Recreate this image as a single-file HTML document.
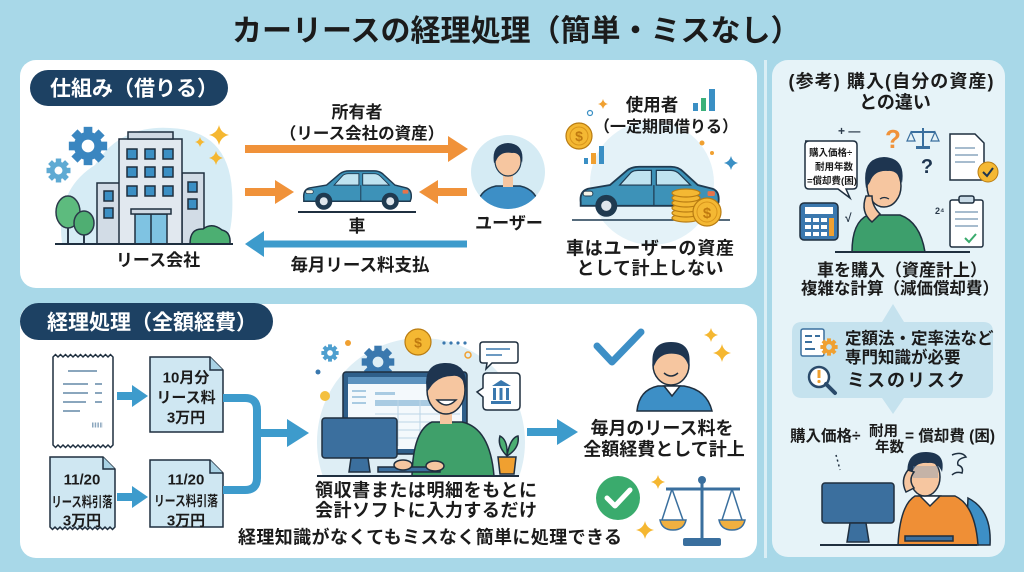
<!DOCTYPE html>
<html><head><meta charset="utf-8">
<style>
html,body{margin:0;padding:0;width:1024px;height:572px;overflow:hidden;background:#a8d8e8}
svg{display:block}
text{font-family:"Liberation Sans","Noto Sans CJK JP",sans-serif;font-weight:bold;fill:#1b1b1b}
.ln{stroke:#1f2f3f;stroke-width:1.5}
</style></head><body>
<svg width="1024" height="572" viewBox="0 0 1024 572" xmlns="http://www.w3.org/2000/svg">
<defs>
<symbol id="spk" viewBox="-10 -10 20 20"><path d="M0-10Q1.8-1.8 10 0Q1.8 1.8 0 10Q-1.8 1.8-10 0Q-1.8-1.8 0-10Z"/></symbol>
<symbol id="gear" viewBox="-12 -12 24 24"><g><rect x="-2.6" y="-11.5" width="5.2" height="7"/><rect x="-2.6" y="-11.5" width="5.2" height="7" transform="rotate(45)"/><rect x="-2.6" y="-11.5" width="5.2" height="7" transform="rotate(90)"/><rect x="-2.6" y="-11.5" width="5.2" height="7" transform="rotate(135)"/><rect x="-2.6" y="-11.5" width="5.2" height="7" transform="rotate(180)"/><rect x="-2.6" y="-11.5" width="5.2" height="7" transform="rotate(225)"/><rect x="-2.6" y="-11.5" width="5.2" height="7" transform="rotate(270)"/><rect x="-2.6" y="-11.5" width="5.2" height="7" transform="rotate(315)"/></g><path fill-rule="evenodd" d="M-8.5 0a8.5 8.5 0 1 0 17 0a8.5 8.5 0 1 0-17 0ZM-3.8 0a3.8 3.8 0 1 0 7.6 0a3.8 3.8 0 1 0-7.6 0Z"/></symbol>
<symbol id="car" viewBox="0 0 120 50">
<path d="M4 37Q3 28 10 26L28 23L42 11Q46 8 52 8L78 8Q84 8 88 12L100 23L112 26Q118 28 117 37L116 40L4 40Z" fill="#3d92b8" stroke="#1f3a50" stroke-width="1.5"/>
<path d="M36 23L45 13Q47 11 51 11L62 11L62 23Z" fill="#bfe3f0" stroke="#1f3a50"/>
<path d="M66 11L78 11Q82 11 85 14L94 23L66 23Z" fill="#bfe3f0" stroke="#1f3a50"/>
<line x1="64" y1="23" x2="64" y2="40" stroke="#1f3a50"/>
<rect x="6" y="28" width="8" height="4" rx="2" fill="#f4f4e8" stroke="#1f3a50" stroke-width=".8"/>
<rect x="108" y="28" width="6" height="4" rx="1" fill="#e8734a"/>
<circle cx="25" cy="40" r="9" fill="#1f3a50"/><circle cx="25" cy="40" r="4.2" fill="#dfe6ec"/>
<circle cx="95" cy="40" r="9" fill="#1f3a50"/><circle cx="95" cy="40" r="4.2" fill="#dfe6ec"/>
</symbol>
<clipPath id="uc"><circle cx="508" cy="172" r="37"/></clipPath>
<clipPath id="cc"><rect x="300" y="320" width="240" height="156"/></clipPath>
</defs>

<rect width="1024" height="572" fill="#a8d8e8"/>

<text x="232" y="41" font-size="30">カーリースの経理処理（簡単・ミスなし）</text>

<rect x="20" y="60" width="737" height="228" rx="16" fill="#fff"/>
<rect x="20" y="304" width="737" height="254" rx="16" fill="#fff"/>
<rect x="764" y="60" width="3" height="498" fill="#d9eef5"/>
<rect x="772" y="60" width="233" height="497" rx="16" fill="#e6f3f8"/>

<rect x="30" y="70" width="198" height="36" rx="18" fill="#1d4163"/>
<text x="50" y="95.5" font-size="21" style="fill:#fff">仕組み（借りる）</text>
<rect x="20" y="303" width="253" height="37" rx="18.5" fill="#1d4163"/>
<text x="47" y="329.5" font-size="21" style="fill:#fff">経理処理（全額経費）</text>

<!-- building -->
<path d="M62 243Q55 190 95 165Q120 125 170 128Q228 130 232 190Q234 225 226 243Z" fill="#d6ecf5"/>
<use href="#gear" x="68" y="126" width="40" height="40" fill="#3a86c0"/>
<use href="#gear" x="46" y="158" width="25" height="25" fill="#5eaad3"/>
<line x1="68" y1="222" x2="68" y2="244" stroke="#2b3a4a" stroke-width="2"/>
<ellipse cx="68" cy="212" rx="12" ry="16" fill="#5dbb7e" stroke="#2b3a4a" stroke-width="1.5"/>
<line x1="84" y1="230" x2="84" y2="244" stroke="#2b3a4a" stroke-width="2"/>
<ellipse cx="84" cy="223" rx="10" ry="12" fill="#4fae72" stroke="#2b3a4a" stroke-width="1.5"/>
<rect x="97" y="183" width="24" height="61" fill="#d2dce6" class="ln"/>
<rect x="104" y="191" width="9" height="10" fill="#3b8fc4" class="ln"/>
<rect x="104" y="208" width="9" height="10" fill="#3b8fc4" class="ln"/>
<rect x="182" y="173" width="22" height="71" fill="#d2dce6" class="ln"/>
<rect x="188" y="182" width="9" height="10" fill="#3b8fc4" class="ln"/>
<rect x="188" y="199" width="9" height="10" fill="#3b8fc4" class="ln"/>
<rect x="119" y="139" width="63" height="105" fill="#e1e8ef" class="ln"/>
<rect x="128" y="132" width="45" height="7" fill="#cfd9e3" class="ln"/>
<g fill="#3b8fc4" class="ln">
<rect x="127" y="149" width="10" height="10"/><rect x="145" y="149" width="10" height="10"/><rect x="163" y="149" width="10" height="10"/>
<rect x="127" y="167" width="10" height="10"/><rect x="145" y="167" width="10" height="10"/><rect x="163" y="167" width="10" height="10"/>
<rect x="127" y="186" width="10" height="10"/><rect x="145" y="186" width="10" height="10"/><rect x="163" y="186" width="10" height="10"/>
</g>
<rect x="135" y="214" width="32" height="30" fill="#7fc3e2" class="ln"/>
<line x1="151" y1="214" x2="151" y2="244" class="ln"/>
<rect x="131" y="209" width="40" height="5" fill="#cfd9e3" class="ln"/>
<path d="M190 244Q190 228 203 229Q212 222 222 230Q231 232 230 244Z" fill="#4caf72" class="ln"/>
<line x1="55" y1="244" x2="233" y2="244" stroke="#1f2f3f" stroke-width="2"/>
<use href="#spk" x="209" y="125" width="20" height="20" fill="#f5b731"/>
<use href="#spk" x="195" y="137" width="10" height="10" fill="#f5b731"/>
<use href="#spk" x="209" y="151" width="14" height="14" fill="#f5b731"/>
<text x="158" y="266" font-size="17" text-anchor="middle">リース会社</text>

<!-- arrows top -->
<line x1="245" y1="149" x2="452" y2="149" stroke="#f0923a" stroke-width="8"/>
<path d="M448 136L468 149L448 162Z" fill="#f0923a"/>
<line x1="245" y1="192" x2="278" y2="192" stroke="#f0923a" stroke-width="8"/>
<path d="M275 180L294 192L275 204Z" fill="#f0923a"/>
<line x1="435" y1="192" x2="467" y2="192" stroke="#f0923a" stroke-width="8"/>
<path d="M438 180L419 192L438 204Z" fill="#f0923a"/>
<line x1="260" y1="244" x2="467" y2="244" stroke="#3d9bcc" stroke-width="7"/>
<path d="M264 231L245 244L264 257Z" fill="#3d9bcc"/>
<text x="357" y="118" font-size="17" text-anchor="middle">所有者</text>
<text x="362" y="139" font-size="16.5" text-anchor="middle">（リース会社の資産）</text>
<use href="#car" x="300" y="163" width="114" height="48"/>
<line x1="298" y1="212" x2="416" y2="212" stroke="#1f2f3f" stroke-width="2"/>
<text x="357" y="232" font-size="17" text-anchor="middle">車</text>
<text x="360" y="271" font-size="17.5" text-anchor="middle">毎月リース料支払</text>

<!-- user -->
<circle cx="508" cy="172" r="37" fill="#d5ebf4"/>
<g clip-path="url(#uc)">
<path d="M476 212Q477 190 496 186L520 186Q539 190 540 212Z" fill="#3d8fc6" stroke="#1f3a50" stroke-width="1.5"/>
</g>
<rect x="503" y="174" width="10" height="13" fill="#f6c6a0"/>
<ellipse cx="508" cy="161" rx="13" ry="15" fill="#f6c6a0" stroke="#1f3a50" stroke-width="1.2"/>
<path d="M494 163Q491 144 508 143Q525 144 522 163Q520 152 512 153Q500 151 496 161Z" fill="#1e3550"/>
<text x="509" y="229" font-size="17" text-anchor="middle">ユーザー</text>

<!-- right car -->
<circle cx="652" cy="183" r="62" fill="#e4f2f8"/>
<use href="#car" x="575" y="157" width="148" height="61"/>
<line x1="572" y1="220" x2="730" y2="220" stroke="#1f3a50" stroke-width="1.5"/>
<g fill="#f4b833" stroke="#b97c12" stroke-width="1.2">
<ellipse cx="686" cy="218" rx="14" ry="4"/><ellipse cx="686" cy="213" rx="14" ry="4"/><ellipse cx="686" cy="208" rx="14" ry="4"/><ellipse cx="686" cy="203" rx="14" ry="4"/><ellipse cx="686" cy="198" rx="14" ry="4"/><ellipse cx="686" cy="193" rx="14" ry="4"/>
<circle cx="707" cy="212" r="14"/><circle cx="579" cy="136" r="13"/>
</g>
<circle cx="707" cy="212" r="10" fill="none" stroke="#d9951c"/>
<circle cx="579" cy="136" r="9" fill="none" stroke="#d9951c"/>
<text x="707" y="218" font-size="15" text-anchor="middle" style="fill:#c07a10">$</text>
<text x="579" y="141" font-size="14" text-anchor="middle" style="fill:#c07a10">$</text>
<rect x="584" y="158" width="4" height="6" fill="#3a8fc4"/><rect x="591" y="153" width="5" height="11" fill="#f0a030"/><rect x="599" y="146" width="5" height="18" fill="#3a8fc4"/>
<rect x="693" y="103" width="5" height="8" fill="#3a8fc4"/><rect x="701" y="98" width="5" height="13" fill="#3bb07a"/><rect x="709" y="89" width="6" height="22" fill="#3a8fc4"/>
<use href="#spk" x="598" y="99" width="10" height="10" fill="#f0a030"/>
<use href="#spk" x="724" y="156" width="14" height="14" fill="#3a8fc4"/>
<circle cx="590" cy="113" r="2.5" fill="none" stroke="#3a8fc4" stroke-width="1.2"/>
<circle cx="702" cy="143" r="2.5" fill="#f0a030"/><circle cx="712" cy="153" r="2" fill="#f0a030"/>
<text x="652" y="111" font-size="17.5" text-anchor="middle">使用者</text>
<text x="666" y="132" font-size="16" text-anchor="middle">（一定期間借りる）</text>
<text x="650" y="254.5" font-size="18" text-anchor="middle" textLength="168">車はユーザーの資産</text>
<text x="650" y="274.5" font-size="18" text-anchor="middle" textLength="147">として計上しない</text>

<!-- bottom panel -->
<path d="M53 357l2.5-2.5l2.5 2.5l2.5-2.5l2.5 2.5l2.5-2.5l2.5 2.5l2.5-2.5l2.5 2.5l2.5-2.5l2.5 2.5l2.5-2.5l2.5 2.5l2.5-2.5l2.5 2.5l2.5-2.5l2.5 2.5l2.5-2.5l2.5 2.5l2.5-2.5l2.5 2.5l2.5-2.5l2.5 2.5l2.5-2.5l2.5 2.5V445l-2.5 2.5l-2.5-2.5l-2.5 2.5l-2.5-2.5l-2.5 2.5l-2.5-2.5l-2.5 2.5l-2.5-2.5l-2.5 2.5l-2.5-2.5l-2.5 2.5l-2.5-2.5l-2.5 2.5l-2.5-2.5l-2.5 2.5l-2.5-2.5l-2.5 2.5l-2.5-2.5l-2.5 2.5l-2.5-2.5l-2.5 2.5l-2.5-2.5l-2.5 2.5l-2.5-2.5Z" fill="#fff" class="ln"/>
<g stroke="#8aa6bd" stroke-width="2">
<line x1="68" y1="371" x2="97" y2="371"/><line x1="63" y1="384" x2="88" y2="384"/><line x1="63" y1="393" x2="88" y2="393"/><line x1="63" y1="402" x2="86" y2="402"/><line x1="63" y1="411" x2="80" y2="411"/>
<line x1="95" y1="384" x2="102" y2="384"/><line x1="95" y1="393" x2="102" y2="393"/><line x1="95" y1="402" x2="102" y2="402"/>
<line x1="92" y1="425" x2="103" y2="425" stroke-dasharray="1.5 1.2" stroke-width="5"/>
</g>
<line x1="117" y1="396" x2="134" y2="396" stroke="#3d9bcc" stroke-width="8"/>
<path d="M132 385L148 396L132 407Z" fill="#3d9bcc"/>
<line x1="117" y1="497" x2="134" y2="497" stroke="#3d9bcc" stroke-width="8"/>
<path d="M132 486L148 497L132 508Z" fill="#3d9bcc"/>
<path d="M150 357H210L223 370V432H150Z" fill="#cfe7f2" class="ln"/>
<path d="M210 357V370H223" fill="#a9d2e4" class="ln"/>
<path d="M150 460H210L223 473V527H150Z" fill="#cfe7f2" class="ln"/>
<path d="M210 460V473H223" fill="#a9d2e4" class="ln"/>
<path d="M50 457H103L115 469V527l-2.5 2.5l-2.5-2.5l-2.5 2.5l-2.5-2.5l-2.5 2.5l-2.5-2.5l-2.5 2.5l-2.5-2.5l-2.5 2.5l-2.5-2.5l-2.5 2.5l-2.5-2.5l-2.5 2.5l-2.5-2.5l-2.5 2.5l-2.5-2.5l-2.5 2.5l-2.5-2.5l-2.5 2.5l-2.5-2.5l-2.5 2.5l-2.5-2.5l-2.5 2.5l-2.5-2.5l-2.5 2.5l-2.5-2.5Z" fill="#cfe7f2" class="ln"/>
<path d="M103 457V469H115" fill="#a9d2e4" class="ln"/>
<text x="186" y="382.4" font-size="15" text-anchor="middle">10月分</text>
<text x="186" y="402.4" font-size="15" text-anchor="middle">リース料</text>
<text x="186" y="422.4" font-size="15" text-anchor="middle">3万円</text>
<text x="82" y="484.4" font-size="15" text-anchor="middle">11/20</text>
<text x="82" y="507" font-size="14" text-anchor="middle" textLength="61" lengthAdjust="spacingAndGlyphs">リース料引落</text>
<text x="82" y="525.4" font-size="15" text-anchor="middle">3万円</text>
<text x="186" y="484.4" font-size="15" text-anchor="middle">11/20</text>
<text x="186" y="506" font-size="14" text-anchor="middle" textLength="64" lengthAdjust="spacingAndGlyphs">リース料引落</text>
<text x="186" y="525.4" font-size="15" text-anchor="middle">3万円</text>
<path d="M223 398H245Q257 398 257 410V478Q257 490 245 490H223" fill="none" stroke="#3d9bcc" stroke-width="8"/>
<line x1="257" y1="433" x2="290" y2="433" stroke="#3d9bcc" stroke-width="8"/>
<path d="M287 419L309 433L287 447Z" fill="#3d9bcc"/>

<!-- computer scene -->
<g clip-path="url(#cc)"><circle cx="421" cy="442" r="104" fill="#deeef5"/></g>
<use href="#gear" x="321" y="344" width="18" height="18" fill="#4e9fcf"/>
<use href="#gear" x="361" y="345" width="34" height="34" fill="#3a78ae"/>
<circle cx="418" cy="342" r="13" fill="#f4b833" stroke="#b97c12" stroke-width="1.2"/>
<text x="418" y="347.5" font-size="14" text-anchor="middle" style="fill:#c07a10">$</text>
<g fill="#3a78ae"><circle cx="444" cy="343" r="1.6"/><circle cx="451" cy="343" r="1.6"/><circle cx="458" cy="343" r="1.6"/><circle cx="465" cy="343" r="1.6"/></g>
<circle cx="348" cy="343" r="3" fill="#f0a030"/>
<circle cx="468" cy="355" r="3" fill="none" stroke="#f0a030" stroke-width="1.5"/>
<circle cx="325" cy="396" r="5" fill="#f4c040"/>
<circle cx="318" cy="372" r="2.5" fill="#3a78ae"/>
<path d="M483 342H515Q518 342 518 345V360Q518 363 515 363H492L486 369L487 363H483Q480 363 480 360V345Q480 342 483 342Z" fill="#fff" class="ln"/>
<line x1="486" y1="349" x2="510" y2="349" stroke="#3a78ae" stroke-width="1.5"/><line x1="486" y1="355" x2="502" y2="355" stroke="#3a78ae" stroke-width="1.5"/>
<path d="M487 373H516Q520 373 520 377V406Q520 410 516 410H487Q483 410 483 406V397L477 392L483 388V377Q483 373 487 373Z" fill="#fff" class="ln"/>
<path d="M492 386L501 380L511 386Z" fill="#3a78ae"/><rect x="493" y="388" width="3" height="12" fill="#3a78ae"/><rect x="499.5" y="388" width="3" height="12" fill="#3a78ae"/><rect x="506" y="388" width="3" height="12" fill="#3a78ae"/><rect x="491" y="401" width="20" height="3" fill="#3a78ae"/>
<rect x="343" y="372" width="124" height="82" rx="3" fill="#2f5f8a" class="ln"/>
<rect x="348" y="377" width="114" height="72" fill="#f4f9fc"/>
<rect x="348" y="377" width="114" height="7" fill="#5d93bf"/>
<g fill="#a9cbe2"><rect x="352" y="390" width="14" height="2"/><rect x="352" y="396" width="14" height="2"/><rect x="352" y="402" width="14" height="2"/><rect x="375" y="392" width="20" height="3"/><rect x="375" y="400" width="80" height="6"/></g>
<g stroke="#bcd5e6" stroke-width="1"><line x1="375" y1="414" x2="460" y2="414"/><line x1="375" y1="422" x2="460" y2="422"/><line x1="375" y1="430" x2="460" y2="430"/><line x1="375" y1="438" x2="460" y2="438"/><line x1="398" y1="400" x2="398" y2="446"/><line x1="420" y1="400" x2="420" y2="446"/></g>
<rect x="322" y="418" width="75" height="40" rx="3" fill="#3b6f9e" class="ln"/>
<path d="M351 458H368L370 472H349Z" fill="#3b6f9e" class="ln"/>
<path d="M412 476Q413 430 432 422L462 422Q490 428 494 476Z" fill="#3fa06a" class="ln"/>
<rect x="440" y="408" width="12" height="16" fill="#f6c6a0"/>
<ellipse cx="446" cy="390" rx="19" ry="24" fill="#f6c6a0" class="ln"/>
<path d="M427 392Q422 364 444 363Q468 362 466 388Q462 374 452 376Q440 376 432 385Z" fill="#1e3550"/>
<path d="M437 400Q446 410 456 400Z" fill="#fff" class="ln"/>
<rect x="378" y="467" width="62" height="5" fill="#3b6f9e" class="ln"/>
<ellipse cx="403" cy="465" rx="9" ry="5" fill="#f6c6a0" class="ln"/>
<ellipse cx="435" cy="466" rx="9" ry="5" fill="#f6c6a0" class="ln"/>
<path d="M507 456Q497 446 500 436Q508 440 507 456Q510 438 518 436Q520 448 507 456Z" fill="#4caf72" class="ln"/>
<path d="M498 457H516L514 474H500Z" fill="#f0a030" class="ln"/>
<line x1="317" y1="476" x2="519" y2="476" stroke="#1f2f3f" stroke-width="2"/>
<text x="315" y="496.5" font-size="18" textLength="222">領収書または明細をもとに</text>
<text x="315" y="516.5" font-size="18" textLength="222">会計ソフトに入力するだけ</text>
<text x="238" y="543.5" font-size="18" textLength="384">経理知識がなくてもミスなく簡単に処理できる</text>
<line x1="527" y1="432" x2="560" y2="432" stroke="#3d9bcc" stroke-width="8"/>
<path d="M557 419L578 432L557 445Z" fill="#3d9bcc"/>

<!-- smiling man -->
<polyline points="597,346 612,362 641,332" fill="none" stroke="#3d8fc6" stroke-width="7" stroke-linecap="round" stroke-linejoin="round"/>
<path d="M637 411Q639 390 658 386L684 386Q707 390 712 411Z" fill="#3d8fc6" class="ln"/>
<path d="M664 386L672 396L680 386Z" fill="#fff" class="ln"/>
<ellipse cx="671" cy="365" rx="18" ry="20" fill="#f6c6a0" class="ln"/>
<path d="M653 368Q649 342 671 342Q693 342 689 368Q686 355 676 354Q662 352 656 362Z" fill="#1e3550"/>
<path d="M664 373Q671 379 678 373" fill="none" stroke="#1f2f3f" stroke-width="1.5"/>
<use href="#spk" x="704" y="328" width="14" height="14" fill="#f5b731"/>
<use href="#spk" x="713" y="344" width="18" height="18" fill="#f5b731"/>
<text x="662" y="434.5" font-size="18" text-anchor="middle">毎月のリース料を</text>
<text x="664" y="455.5" font-size="18" text-anchor="middle">全額経費として計上</text>
<circle cx="618" cy="498" r="22" fill="#3aab6d"/>
<polyline points="607,498 615,506 630,490" fill="none" stroke="#fff" stroke-width="5" stroke-linecap="round" stroke-linejoin="round"/>
<use href="#spk" x="651" y="475" width="14" height="14" fill="#f5b731"/>
<use href="#spk" x="636" y="521" width="18" height="18" fill="#f5b731"/>
<g stroke="#3a6f9e" stroke-width="3" fill="none"><line x1="702" y1="480" x2="702" y2="540"/><line x1="666" y1="489" x2="740" y2="489"/><path d="M672 489L662 520M672 489L683 520M732 489L722 520M732 489L742 520" stroke-width="1.5"/></g>
<circle cx="702" cy="480" r="4" fill="#3a6f9e"/>
<rect x="683" y="538" width="38" height="8" rx="2" fill="#3a6f9e"/>
<path d="M660 520H686Q684 530 673 530Q662 530 660 520Z" fill="#f0b040" stroke="#3a6f9e" stroke-width="1.5"/>
<path d="M719 520H745Q743 530 732 530Q721 530 719 520Z" fill="#f0b040" stroke="#3a6f9e" stroke-width="1.5"/>

<!-- right panel -->
<text x="891" y="87.5" font-size="18" text-anchor="middle" textLength="205">(参考) 購入(自分の資産)</text>
<text x="895" y="108.5" font-size="18" text-anchor="middle">との違い</text>
<path d="M805 141H853Q857 141 857 145V185Q857 189 853 189H846L850 198L838 189H809Q805 189 805 185V145Q805 141 809 141Z" fill="#fff" class="ln" stroke-width="1.2"/>
<text x="809" y="156" font-size="9.5">購入価格÷</text>
<text x="853" y="170" font-size="9.5" text-anchor="end">耐用年数</text>
<text x="807" y="184" font-size="9.5">=償却費(困)</text>
<rect x="800" y="203" width="38" height="37" rx="4" fill="#3b78ae" class="ln"/>
<rect x="805" y="207" width="28" height="7" fill="#fff"/>
<g fill="#fff"><rect x="805" y="218" width="6" height="4"/><rect x="813" y="218" width="6" height="4"/><rect x="821" y="218" width="6" height="4"/><rect x="805" y="225" width="6" height="4"/><rect x="813" y="225" width="6" height="4"/><rect x="821" y="225" width="6" height="4"/><rect x="805" y="232" width="6" height="4"/><rect x="813" y="232" width="6" height="4"/><rect x="821" y="232" width="6" height="4"/></g>
<rect x="829" y="218" width="5" height="18" fill="#f0a030"/>
<path d="M852 252Q852 222 868 215L900 215Q920 222 925 252Z" fill="#3d9f6c" class="ln"/>
<ellipse cx="884" cy="186" rx="17" ry="21" fill="#f6c6a0" class="ln"/>
<path d="M866 188Q861 158 884 157Q906 158 902 183Q898 170 888 171Q874 170 870 182Z" fill="#1e3550"/>
<path d="M866 196Q860 212 872 222L880 214Q872 206 872 196Z" fill="#f6c6a0" class="ln"/>
<path d="M880 199Q884 196 889 199" fill="none" stroke="#1f2f3f" stroke-width="1.3"/>
<line x1="835" y1="252" x2="970" y2="252" stroke="#1f2f3f" stroke-width="2"/>
<text x="893" y="148" font-size="26" text-anchor="middle" style="fill:#f0923a">?</text>
<text x="927" y="173" font-size="20" text-anchor="middle" style="fill:#1e3550">?</text>
<text x="838" y="135" font-size="12" style="fill:#2b3a4a">+ —</text>
<text x="845" y="222" font-size="12" style="fill:#2b3a4a">√</text>
<text x="935" y="214" font-size="9" style="fill:#2b3a4a">2⁴</text>
<g stroke="#3a6f9e" stroke-width="2" fill="none"><line x1="923" y1="128" x2="923" y2="147"/><line x1="911" y1="132" x2="935" y2="132"/><path d="M911 132L907 141H915ZM935 132L931 141H939Z" stroke-width="1.2"/></g>
<rect x="916" y="146" width="14" height="3" fill="#3a6f9e"/>
<path d="M950 134H975L984 143V180H950Z" fill="#fff" class="ln"/>
<g stroke="#8aa6bd" stroke-width="1.5"><line x1="955" y1="148" x2="975" y2="148"/><line x1="955" y1="155" x2="978" y2="155"/><line x1="955" y1="162" x2="975" y2="162"/></g>
<circle cx="988" cy="172" r="10" fill="#f4b833" stroke="#b97c12"/>
<polyline points="983,172 987,176 993,168" fill="none" stroke="#1e3550" stroke-width="2"/>
<rect x="950" y="200" width="33" height="47" rx="2" fill="#fff" class="ln"/>
<rect x="959" y="196" width="15" height="7" rx="2" fill="#c9dbe7" class="ln"/>
<g stroke="#8aa6bd" stroke-width="1.5"><line x1="955" y1="212" x2="978" y2="212"/><line x1="955" y1="219" x2="978" y2="219"/><line x1="955" y1="226" x2="978" y2="226"/></g>
<polyline points="965,238 969,242 976,234" fill="none" stroke="#3aab6d" stroke-width="2"/>
<text x="902" y="276" font-size="17" text-anchor="middle">車を購入（資産計上）</text>
<text x="900" y="294" font-size="16.5" text-anchor="middle">複雑な計算（減価償却費）</text>

<path d="M802 322H882L893 304L904 322H983Q993 322 993 332V388Q993 398 983 398H904L893 414L882 398H802Q792 398 792 388V332Q792 322 802 322Z" fill="#c5e2ee"/>
<rect x="801" y="329" width="23" height="27" rx="2" fill="#fff" stroke="#3a6f9e" stroke-width="1.5"/>
<g stroke="#3a6f9e" stroke-width="2"><line x1="805" y1="336" x2="812" y2="336"/><line x1="805" y1="342" x2="812" y2="342"/><line x1="805" y1="349" x2="815" y2="349"/><line x1="815" y1="336" x2="820" y2="336"/></g>
<use href="#gear" x="820" y="338" width="18" height="18" fill="#f0a030"/>
<circle cx="819" cy="377" r="10" fill="#fff" stroke="#2a4a6a" stroke-width="2.5"/>
<line x1="826" y1="384" x2="835" y2="393" stroke="#2a4a6a" stroke-width="4" stroke-linecap="round"/>
<rect x="817.5" y="370" width="3" height="8" fill="#f0a030"/><circle cx="819" cy="381.5" r="1.6" fill="#f0a030"/>
<text x="845" y="344" font-size="16.5">定額法・定率法など</text>
<text x="845" y="363" font-size="16.5">専門知識が必要</text>
<text x="847" y="386.5" font-size="18" letter-spacing="2">ミスのリスク</text>

<text x="790" y="441" font-size="15.5">購入価格÷</text>
<text x="869" y="436" font-size="14.5">耐用</text>
<text x="875" y="452" font-size="14.5">年数</text>
<text x="905" y="441" font-size="15.5">= 償却費 (困)</text>

<path d="M836 455Q838 462 840 470" fill="none" stroke="#1f2f3f" stroke-width="1.5" stroke-dasharray="2 3"/>
<path d="M968 498Q992 510 990 545H966Z" fill="#3d8fc6" class="ln"/>
<path d="M898 545Q900 505 915 496L955 496Q975 505 978 545Z" fill="#ef8f36" class="ln"/>
<path d="M920 496L930 506L940 496Z" fill="#fff" class="ln"/>
<ellipse cx="925" cy="477" rx="15" ry="19" fill="#f6c6a0" class="ln"/>
<path d="M908 478Q904 452 926 452Q946 452 942 472Q938 462 928 463Q914 462 912 474Z" fill="#1e3550"/>
<rect x="913" y="466" width="25" height="12" fill="#6a8fb5" opacity=".35"/>
<path d="M908 470Q900 480 906 492L914 488Q908 480 914 472Z" fill="#f6c6a0" class="ln"/>
<path d="M952 455q10-4 14 2q-10 2-8 8q6 2 4 8q-6-2-10 2" fill="none" stroke="#1f2f3f" stroke-width="1.5"/>
<rect x="822" y="483" width="72" height="40" rx="3" fill="#3b6f9e" class="ln"/>
<path d="M850 523H866L869 542H847Z" fill="#3b6f9e" class="ln"/>
<rect x="905" y="536" width="48" height="5" fill="#3b6f9e" class="ln"/>
<line x1="820" y1="545" x2="977" y2="545" stroke="#1f2f3f" stroke-width="2"/>
</svg>
</body></html>
